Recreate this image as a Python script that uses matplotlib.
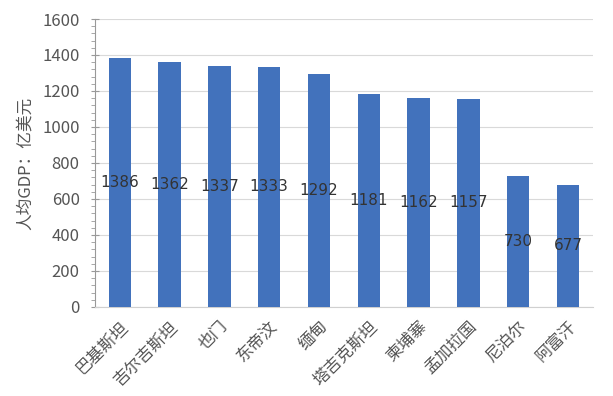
import matplotlib.pyplot as plt
from matplotlib.ticker import MultipleLocator

plt.rcParams['font.family'] = ['Noto Sans CJK SC', 'DejaVu Sans']

# === Data ===
countries = ["巴基斯坦", "吉尔吉斯坦", "也门", "东帝汶", "缅甸",
             "塔吉克斯坦", "柬埔寨", "孟加拉国", "尼泊尔", "阿富汗"]
gdp = [1386, 1362, 1337, 1333, 1292, 1181, 1162, 1157, 730, 677]

fig = plt.figure(figsize=(6.13, 3.96), dpi=100)
ax = fig.add_axes([0.155, 0.225, 0.812, 0.727])

bars = ax.bar(range(len(countries)), gdp, width=0.45, color='#4272BC', zorder=3)
ax.bar_label(bars, labels=[str(v) for v in gdp], label_type='center',
             fontsize=11, color='#333333', family='DejaVu Sans')

ax.set_xlim(-0.5, len(countries) - 0.5)
ax.set_ylim(0, 1600)
ax.yaxis.set_major_locator(MultipleLocator(200))
ax.yaxis.set_minor_locator(MultipleLocator(40))
ax.grid(axis='y', color='#d9d9d9', linewidth=0.8, zorder=0)

ax.set_xticks(range(len(countries)))
ax.set_xticklabels(countries, rotation=45, ha='right', rotation_mode='anchor',
                   fontsize=12, color='#555555')
ax.tick_params(axis='x', length=0, pad=8)
ax.tick_params(axis='y', which='major', direction='inout', length=6,
               color='#999999', labelsize=12, labelcolor='#555555', pad=8)
ax.tick_params(axis='y', which='minor', direction='out', length=3, color='#999999')

for s in ['top', 'right']:
    ax.spines[s].set_visible(False)
ax.spines['left'].set_color('#999999')
ax.spines['bottom'].set_color('#d0d0d0')

ax.set_ylabel("人均GDP：亿美元", fontsize=12, color='#555555', labelpad=6)

fig.savefig('out.png', dpi=100, facecolor='white')
